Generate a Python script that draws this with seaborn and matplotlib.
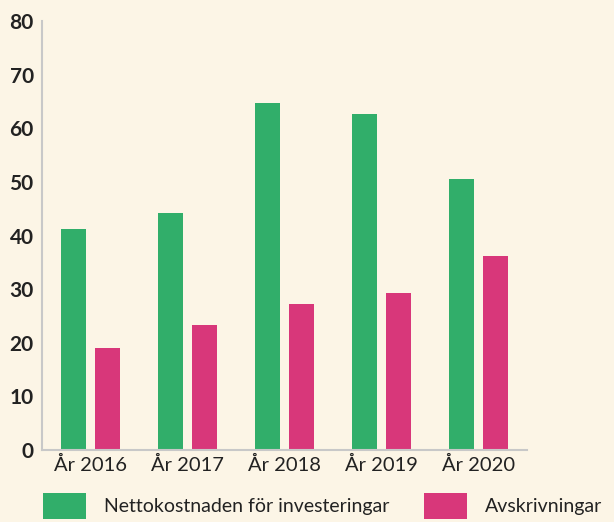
import matplotlib
matplotlib.use("Agg")
import matplotlib.pyplot as plt
import numpy as np
import pandas as pd
import seaborn as sns

years = ["År 2016", "År 2017", "År 2018", "År 2019", "År 2020"]
series = ["Nettokostnaden för investeringar", "Avskrivningar"]
netto = [41.2, 44.2, 64.8, 62.6, 50.5]
avskr = [19.0, 23.3, 27.2, 29.3, 36.1]
yticks = [0, 10, 20, 30, 40, 50, 60, 70, 80]

bg = "#fcf5e6"
grey = "#c8c8c8"
colors = ["#31ae6a", "#d8377a"]

df = pd.DataFrame({
    "year": years * 2,
    "serie": [series[0]] * len(years) + [series[1]] * len(years),
    "value": netto + avskr,
})

sns.set_style("white")
plt.rcParams["font.family"] = ["Lato", "DejaVu Sans"]

fig = plt.figure(figsize=(6.14, 5.22), dpi=100, facecolor=bg)
ax = fig.add_axes([42 / 614, 72 / 522, 485 / 614, 429 / 522])
ax.set_facecolor(bg)

sns.barplot(data=df, x="year", y="value", hue="serie", palette=colors,
            width=0.7, gap=0.29, saturation=1, linewidth=0, ax=ax,
            legend=False)

ax.set_xlim(-0.5, 4.5)
ax.set_ylim(0, 80)
ax.set_yticks(yticks)
ax.set_xlabel("")
ax.set_ylabel("")

for s in ["top", "right"]:
    ax.spines[s].set_visible(False)
for s in ["left", "bottom"]:
    ax.spines[s].set_color(grey)
    ax.spines[s].set_linewidth(1.5)

ax.tick_params(axis="y", direction="in", length=8, width=1.5, color=grey,
               labelsize=15, labelcolor="#222222", pad=6)
for lab in ax.get_yticklabels():
    lab.set_fontweight("bold")
ax.tick_params(axis="x", which="major", length=0, labelsize=14.5,
               labelcolor="#222222", pad=4)
ax.set_xticks(np.arange(-0.5, 5, 1), minor=True)
ax.tick_params(axis="x", which="minor", direction="in", length=9,
               width=1.5, color=grey)

handles = [plt.Rectangle((0, 0), 1, 1, color=c, linewidth=0) for c in colors]
fig.legend(handles, series, loc="upper left",
           bbox_to_anchor=(43 / 614, 1 - 493 / 522), ncol=2, frameon=False,
           fontsize=14, handlelength=2.2, handleheight=1.65,
           handletextpad=0.93, columnspacing=1.8, borderpad=0,
           borderaxespad=0, labelcolor="#222222")

fig.savefig("out.png", dpi=100, facecolor=bg)
